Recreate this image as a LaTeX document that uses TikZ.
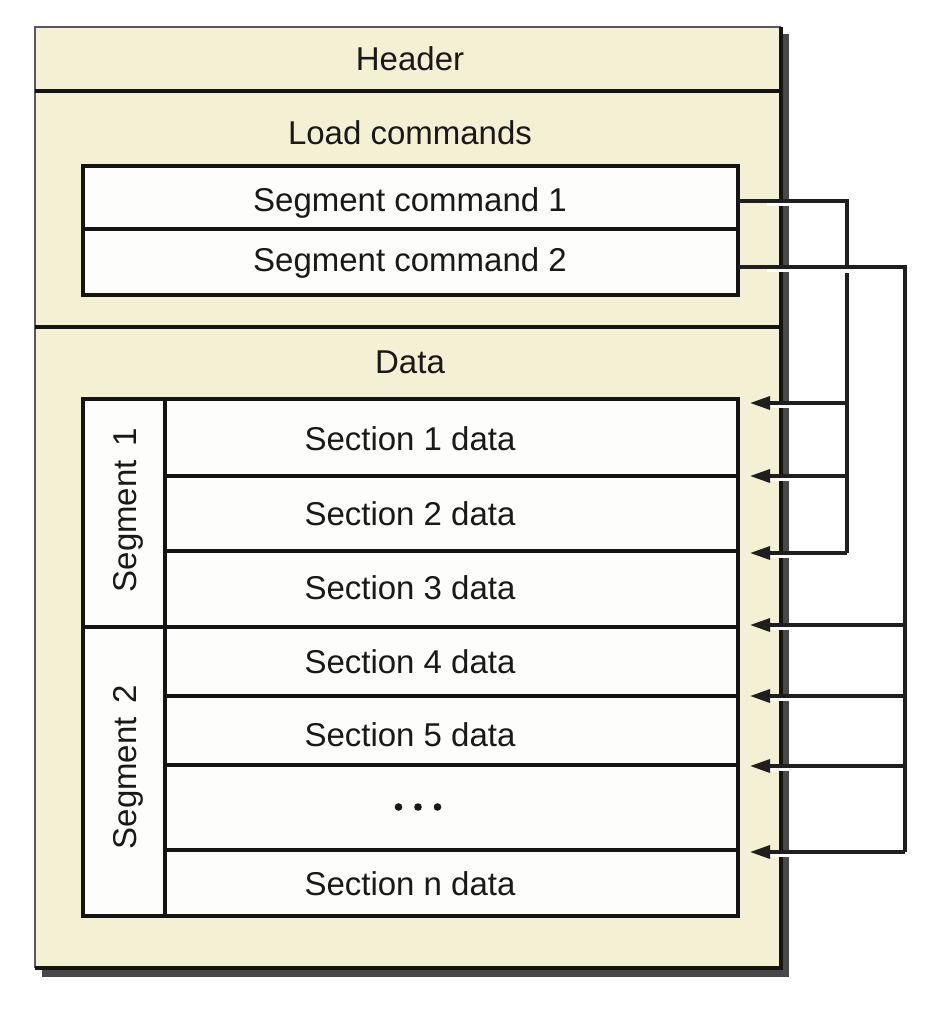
\documentclass[tikz,border=0pt]{standalone}
\usepackage{fontspec}
\setmainfont{Liberation Sans}
\usetikzlibrary{arrows.meta}
\definecolor{cream}{RGB}{244,240,212}
\definecolor{dropgray}{RGB}{72,72,72}
\definecolor{paper}{RGB}{253,253,251}
\begin{document}
\begin{tikzpicture}[x=1pt,y=-1pt,
  lbl/.style={font=\fontsize{33}{40}\selectfont, inner sep=0pt,
              text height=23.6pt, text depth=0pt, anchor=center, text=black!90},
  rule/.style={line width=3.3pt, draw=black!92},
  boxline/.style={line width=3.8pt, draw=black!92, fill=paper},
  conn/.style={line width=3.3pt, draw=black!88},
  arr/.style={conn, -{Triangle[length=20pt,width=13pt]}, shorten >=12pt},
  gap/.style={fill=white},
]
\useasboundingbox (0,0) rectangle (940,1016);

% outer file block with drop shadow
\fill[dropgray] (42,34) rectangle (789,977);
\fill[cream] (35,27) rectangle (781,968);
\draw[line width=1.6pt, black!65] (781,27) -- (35,27) -- (35,968);
\draw[line width=3.8pt, black!92] (781,27) -- (781,968) -- (35,968);
\draw[rule] (35,91) -- (781,91);
\draw[rule] (35,327) -- (781,327);

% header / load commands / data titles
\node[lbl] (hdr)  at (410,59)  {Header};
\node[lbl] (lc)   at (410,133) {Load commands};
\node[lbl] (data) at (410,362) {Data};

% segment command table
\draw[boxline] (83,166) rectangle (738,295);
\draw[rule] (83,229) -- (738,229);
\node[lbl] (cmdA) at (410,200) {Segment command 1};
\node[lbl] (cmdB) at (410,260) {Segment command 2};

% section table
\draw[boxline] (83,399) rectangle (738,916);
\draw[rule] (165,399) -- (165,916);
\foreach \yy in {476,551,696,765,850} \draw[rule] (165,\yy) -- (738,\yy);
\draw[rule] (83,627) -- (738,627);

\node[lbl, rotate=90] (segA) at (125,510) {Segment\hspace{14pt}1};
\node[lbl, rotate=90] (segB) at (125,767) {Segment\hspace{14pt}2};

\node[lbl] (s1) at (410,439) {Section 1 data};
\node[lbl] (s2) at (410,514) {Section 2 data};
\node[lbl] (s3) at (410,588) {Section 3 data};
\node[lbl] (s4) at (410,662) {Section 4 data};
\node[lbl] (s5) at (410,735) {Section 5 data};
\node[inner sep=0pt] (dots) at (418,807) {};
\foreach \dx in {-19.5,0,19.5} \fill[black!90] ([xshift=\dx pt]dots) circle (3.8pt);
\node[lbl] (sn) at (410,884) {Section n data};

% anchor points of the connectors
\coordinate (outA) at (738,201);
\coordinate (outB) at (738,267);
\coordinate (busA) at (847,201);
\coordinate (busB) at (905,267);
\coordinate (inA1) at (738,403);
\coordinate (inA2) at (738,476);
\coordinate (inA3) at (738,553);
\coordinate (inB1) at (738,625);
\coordinate (inB2) at (738,696);
\coordinate (inB3) at (738,766);
\coordinate (inB4) at (738,852);

% breaks in the frame edge where the connectors pass over it
\foreach \yy in {201,267,403,476,553,625,696,766,852}
  \fill[gap] (767,\yy+1.6) rectangle (790,\yy+4.6);

% segment command 1 -> its sections
\draw[conn] (outA) -- (busA) -- (busA |- inA3);
\foreach \t in {inA1,inA2,inA3} \draw[arr] (busA |- \t) -- (\t);

% segment command 2 -> its sections (crossing over the first bus)
\fill[gap] (843,268.6) rectangle (851,272.8);
\draw[conn] (outB) -- (busB) -- (busB |- inB4);
\foreach \t in {inB1,inB2,inB3,inB4} \draw[arr] (busB |- \t) -- (\t);
\end{tikzpicture}
\end{document}
